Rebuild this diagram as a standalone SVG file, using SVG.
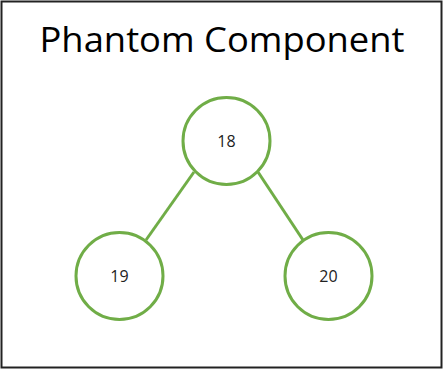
<svg xmlns="http://www.w3.org/2000/svg" width="443" height="369" viewBox="0 0 443 369">
<style>
.node circle{fill:#fff;stroke:#70AD47;stroke-width:3}
.node text{font-family:"Open Sans","Liberation Sans",sans-serif;font-size:16px;fill:#222;text-anchor:middle}
.edge{stroke:#70AD47;stroke-width:3}
</style>
<rect x="1.5" y="1.5" width="440" height="366" fill="#fff" stroke="#222" stroke-width="2"/>
<text x="222" y="52" font-family="Open Sans, Liberation Sans, sans-serif" font-size="34" fill="#000" text-anchor="middle" textLength="365" lengthAdjust="spacingAndGlyphs">Phantom Component</text>
<g id="edges">
<line class="edge" x1="194" y1="172" x2="146" y2="240"/>
<line class="edge" x1="258" y1="172" x2="303" y2="240"/>
</g>
<g id="n18" class="node"><circle cx="226.5" cy="141" r="43.5"/><text x="226.5" y="147">18</text></g>
<g id="n19" class="node"><circle cx="119.5" cy="276" r="43.5"/><text x="119.5" y="282">19</text></g>
<g id="n20" class="node"><circle cx="328.5" cy="276" r="43.5"/><text x="328.5" y="282">20</text></g>
</svg>
